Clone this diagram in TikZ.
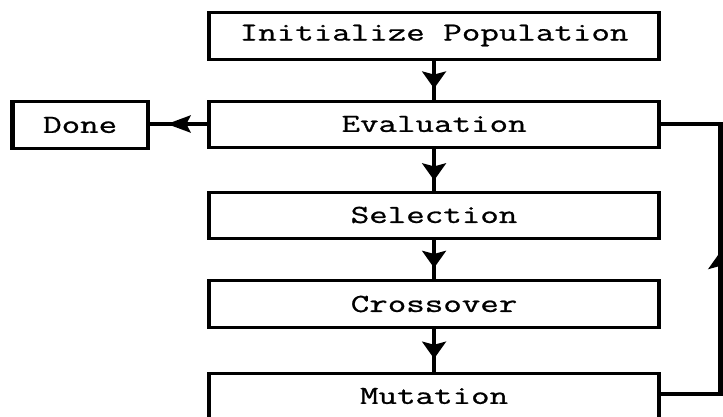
\documentclass[tikz,border=0pt]{standalone}
\usepackage{fontspec}
\newfontfamily\boxtt{Latin Modern Mono}[FakeBold=0.8]
\usetikzlibrary{arrows.meta,decorations.markings}
\begin{document}
\begin{tikzpicture}[x=1pt,y=1pt,
  stepbox/.style={draw,line width=3pt,minimum width=326pt,minimum height=46pt,inner sep=0pt,
    font=\fontsize{26}{30}\selectfont\boxtt},
  conn/.style={line width=3.5pt},
  midarrow/.style={postaction={decorate},decoration={markings,
    mark=at position #1 with {\arrow{Stealth[length=17pt,width=17pt,inset=3pt]}}}}
]
\useasboundingbox (0,0) rectangle (723,-416);
\clip (0,0) rectangle (723,-416);
\begin{scope}[transform canvas={xscale=1.3824}]
\node[stepbox,minimum height=47pt] (init) at (314,-35.5) {Initialize Population};
\node[stepbox] (eval) at (314,-124) {Evaluation};
\node[stepbox,minimum width=98pt,minimum height=47pt] (done) at (58,-125) {Done};
\node[stepbox] (sel) at (314,-215) {Selection};
\node[stepbox,minimum height=47pt] (cross) at (314,-304) {Crossover};
\node[stepbox] (mut) at (314,-396) {Mutation};
\coordinate (loopr) at (521,0);
\coordinate (mutout) at ([yshift=2pt]mut.east);
\draw[conn,midarrow=0.72] (init) -- (eval);
\draw[conn,midarrow=0.70] (eval.west) -- (done.east |- eval.west);
\draw[conn,midarrow=0.76] (eval) -- (sel);
\draw[conn,midarrow=0.72] (sel) -- (cross);
\draw[conn,midarrow=0.70] (cross) -- (mut);
\draw[conn,midarrow=0.52] (mutout) -| (loopr |- eval.east) -- (eval.east);
\end{scope}
\end{tikzpicture}
\end{document}
